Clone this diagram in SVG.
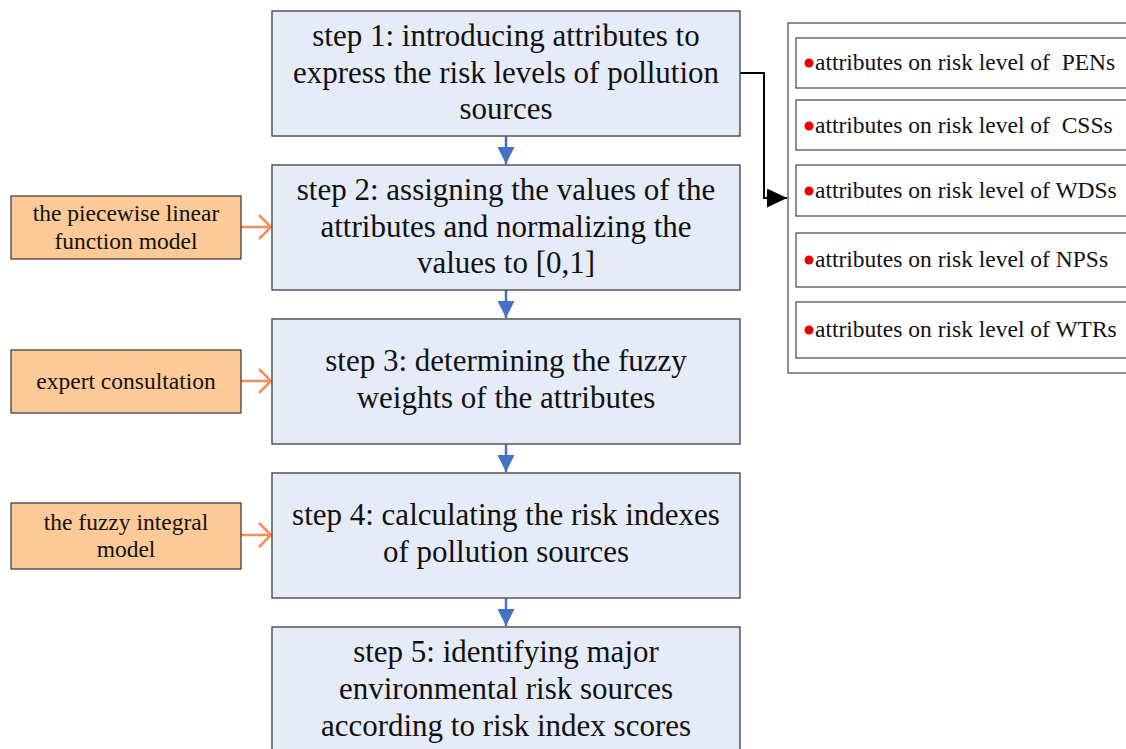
<svg xmlns="http://www.w3.org/2000/svg" width="1126" height="749" viewBox="0 0 1126 749">
<style>
.step{fill:#E5ECF7;stroke:#555;stroke-width:1.5}
.org{fill:#FDCA98;stroke:#333;stroke-width:1.2}
.item{fill:#fff;stroke:#444;stroke-width:1.2}
.stp{font-size:31px;fill:#111;text-anchor:middle}
.ot{font-size:23.5px;fill:#111;text-anchor:middle}
.it{font-size:23.5px;fill:#111;white-space:pre}
.blue{stroke:#4472C4;stroke-width:2.5;fill:none}
.oa{stroke:#F88D5A;stroke-width:2.5;fill:none}
</style>
<defs>
<marker id="ab" markerWidth="18" markerHeight="17" refX="17" refY="8.5" orient="auto" markerUnits="userSpaceOnUse"><path d="M0,0 L17,8.5 L0,17 Z" fill="#4472C4"/></marker>
<marker id="ak" markerWidth="20" markerHeight="19" refX="20" refY="9.5" orient="auto" markerUnits="userSpaceOnUse"><path d="M0,0 L20,9.5 L0,19 Z" fill="#000"/></marker>
</defs>
<g id="connectors">
<line class="blue" x1="506" y1="136" x2="506" y2="164" marker-end="url(#ab)"/>
<line class="blue" x1="506" y1="290" x2="506" y2="318" marker-end="url(#ab)"/>
<line class="blue" x1="506" y1="444" x2="506" y2="472" marker-end="url(#ab)"/>
<line class="blue" x1="506" y1="598" x2="506" y2="626" marker-end="url(#ab)"/>
<path class="oa" d="M241,227 H271 M259,215 L271,227 L259,239"/>
<path class="oa" d="M241,381 H271 M259,369 L271,381 L259,393"/>
<path class="oa" d="M241,535 H271 M259,523 L271,535 L259,547"/>
<path d="M740,73 H764 V198 H787" stroke="#000" stroke-width="2" fill="none" marker-end="url(#ak)"/>
</g>
<g font-family="'Liberation Serif', 'Times New Roman', serif">
<g id="step1"><rect class="step" x="272" y="11" width="468" height="125"/>
<text class="stp" x="506" y="46">step 1: introducing attributes to</text>
<text class="stp" x="506" y="83">express the risk levels of pollution</text>
<text class="stp" x="506" y="119">sources</text></g>
<g id="step2"><rect class="step" x="272" y="165" width="468" height="125"/>
<text class="stp" x="506" y="200">step 2: assigning the values of the</text>
<text class="stp" x="506" y="237">attributes and normalizing the</text>
<text class="stp" x="506" y="273">values to [0,1]</text></g>
<g id="step3"><rect class="step" x="272" y="319" width="468" height="125"/>
<text class="stp" x="506" y="371">step 3: determining the fuzzy</text>
<text class="stp" x="506" y="408">weights of the attributes</text></g>
<g id="step4"><rect class="step" x="272" y="473" width="468" height="125"/>
<text class="stp" x="506" y="525">step 4: calculating the risk indexes</text>
<text class="stp" x="506" y="562">of pollution sources</text></g>
<g id="step5"><rect class="step" x="272" y="627" width="468" height="140"/>
<text class="stp" x="506" y="662">step 5: identifying major</text>
<text class="stp" x="506" y="699">environmental risk sources</text>
<text class="stp" x="506" y="736">according to risk index scores</text></g>
<g id="model1"><rect class="org" x="11" y="196" width="230" height="63"/>
<text class="ot" x="126" y="221">the piecewise linear</text>
<text class="ot" x="126" y="249">function model</text></g>
<g id="model2"><rect class="org" x="11" y="350" width="230" height="63"/>
<text class="ot" x="126" y="389">expert consultation</text></g>
<g id="model3"><rect class="org" x="11" y="503" width="230" height="66"/>
<text class="ot" x="126" y="530">the fuzzy integral</text>
<text class="ot" x="126" y="557">model</text></g>
<g id="attrs">
<rect x="788" y="23" width="360" height="350" fill="#fff" stroke="#444" stroke-width="1.2"/>
<g id="a1"><rect class="item" x="796" y="38" width="360" height="50"/><circle cx="809" cy="63" r="4.5" fill="#e00"/><text class="it" x="815" y="70" xml:space="preserve">attributes on risk level of  PENs</text></g>
<g id="a2"><rect class="item" x="796" y="100" width="360" height="50"/><circle cx="809" cy="126" r="4.5" fill="#e00"/><text class="it" x="815" y="133" xml:space="preserve">attributes on risk level of  CSSs</text></g>
<g id="a3"><rect class="item" x="796" y="165" width="360" height="51"/><circle cx="809" cy="191" r="4.5" fill="#e00"/><text class="it" x="815" y="198">attributes on risk level of WDSs</text></g>
<g id="a4"><rect class="item" x="796" y="233" width="360" height="54"/><circle cx="809" cy="260" r="4.5" fill="#e00"/><text class="it" x="815" y="267">attributes on risk level of NPSs</text></g>
<g id="a5"><rect class="item" x="796" y="302" width="360" height="56"/><circle cx="809" cy="330" r="4.5" fill="#e00"/><text class="it" x="815" y="337">attributes on risk level of WTRs</text></g>
</g>
</g>
</svg>
